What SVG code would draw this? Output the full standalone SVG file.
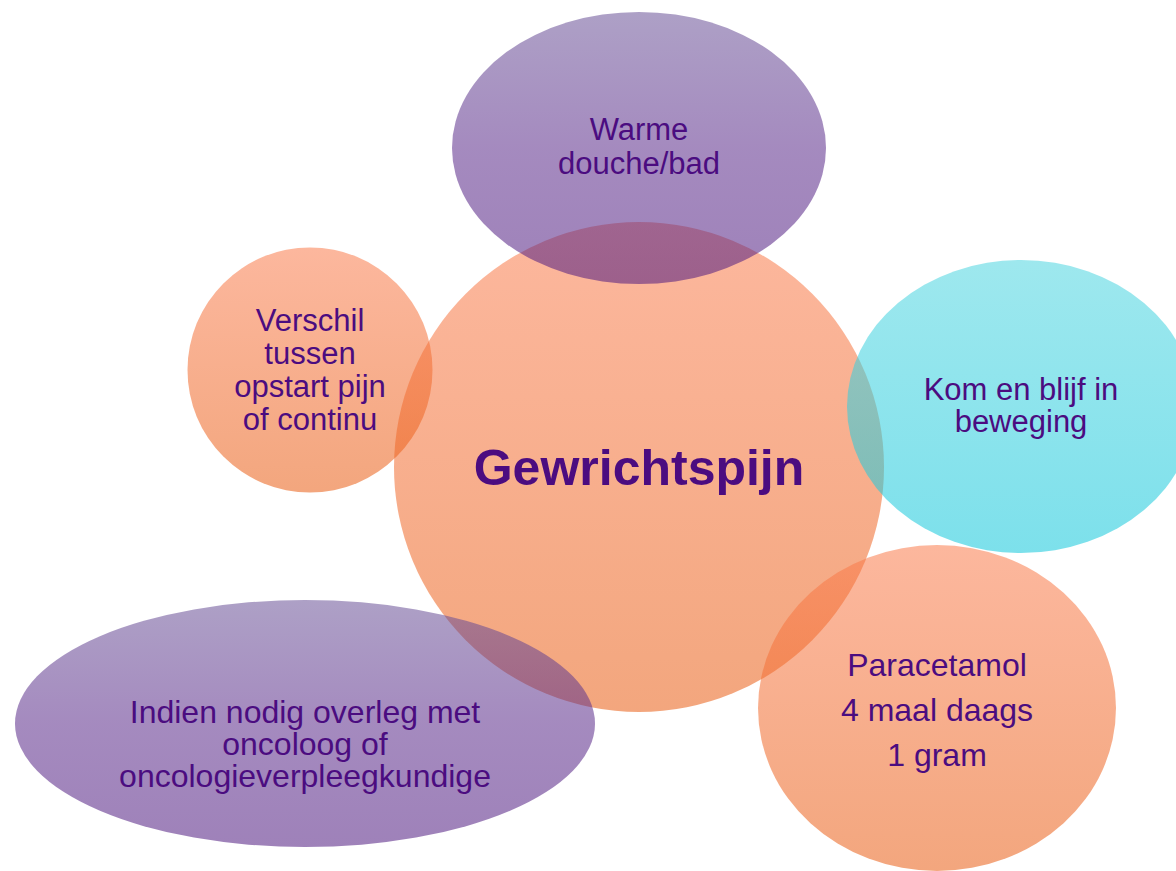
<svg xmlns="http://www.w3.org/2000/svg" width="1176" height="871" viewBox="0 0 1176 871">
  <defs>
    <linearGradient id="gOrange" x1="0" y1="0" x2="0" y2="1">
      <stop offset="0" stop-color="#FA7C4D"/>
      <stop offset="1" stop-color="#E95D13"/>
    </linearGradient>
    <linearGradient id="gPurple" x1="0" y1="0" x2="0" y2="1">
      <stop offset="0" stop-color="#6A5297"/>
      <stop offset="0.5" stop-color="#5A2A8A"/>
      <stop offset="1" stop-color="#4F1A80"/>
    </linearGradient>
    <linearGradient id="gCyan" x1="0" y1="0" x2="0" y2="1">
      <stop offset="0" stop-color="#4ED5E0"/>
      <stop offset="1" stop-color="#11C7DB"/>
    </linearGradient>
  </defs>
  <style>
    .orange { fill: url(#gOrange); fill-opacity: 0.55; }
    .purple { fill: url(#gPurple); fill-opacity: 0.55; }
    .cyan { fill: url(#gCyan); fill-opacity: 0.55; }
    .lbl { font-family: "Liberation Sans", Arial, sans-serif; font-size: 31px; fill: #4B0C80; text-anchor: middle; }
    .big { font-family: "Liberation Sans", Arial, sans-serif; font-size: 50px; font-weight: bold; fill: #4B0C80; text-anchor: middle; }
  </style>
  <rect width="1176" height="871" fill="#FFFFFF"/>
  <g id="connectors"></g>
  <g id="center">
    <circle class="orange" cx="639" cy="467" r="245"/>
    <text class="big" x="639" y="485">Gewrichtspijn</text>
  </g>
  <g id="node-warme">
    <ellipse class="purple" cx="639" cy="148" rx="187" ry="136"/>
    <text class="lbl" x="639" y="140">Warme</text>
    <text class="lbl" x="639" y="174">douche/bad</text>
  </g>
  <g id="node-verschil">
    <circle class="orange" cx="310" cy="370" r="122.5"/>
    <text class="lbl" x="310" y="331">Verschil</text>
    <text class="lbl" x="310" y="364">tussen</text>
    <text class="lbl" x="310" y="397">opstart pijn</text>
    <text class="lbl" x="310" y="430">of continu</text>
  </g>
  <g id="node-kom">
    <ellipse class="cyan" cx="1021" cy="406.5" rx="174" ry="146.5"/>
    <text class="lbl" x="1021" y="400">Kom en blijf in</text>
    <text class="lbl" x="1021" y="432">beweging</text>
  </g>
  <g id="node-paracetamol">
    <ellipse class="orange" cx="937" cy="708" rx="179" ry="163"/>
    <text class="lbl" x="937" y="676" style="font-size:32px">Paracetamol</text>
    <text class="lbl" x="937" y="721" style="font-size:32px">4 maal daags</text>
    <text class="lbl" x="937" y="766" style="font-size:32px">1 gram</text>
  </g>
  <g id="node-indien">
    <ellipse class="purple" cx="305" cy="723.5" rx="290" ry="123.5"/>
    <text class="lbl" x="305" y="723" style="font-size:32px">Indien nodig overleg met</text>
    <text class="lbl" x="305" y="755" style="font-size:32px">oncoloog of</text>
    <text class="lbl" x="305" y="787" style="font-size:32px">oncologieverpleegkundige</text>
  </g>
</svg>
